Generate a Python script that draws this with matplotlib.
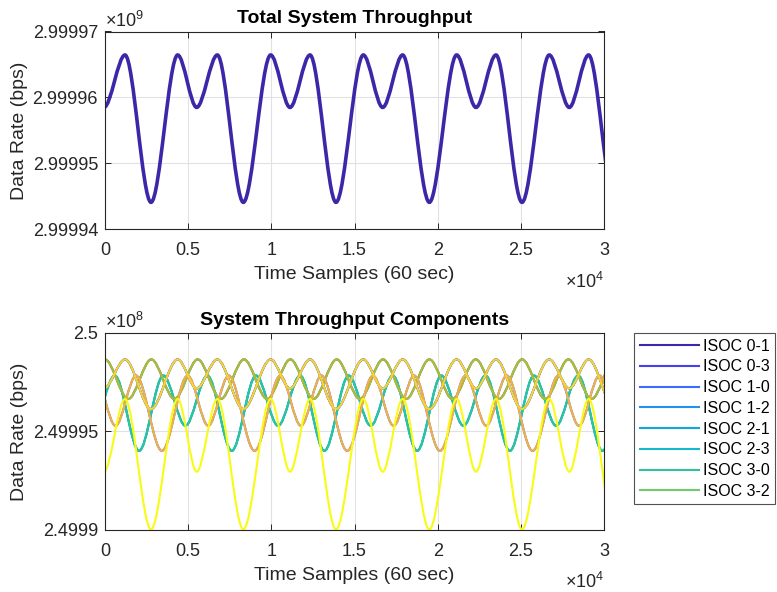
import matplotlib
matplotlib.use("Agg")
import matplotlib.pyplot as plt
from matplotlib.path import Path
from matplotlib.patches import PathPatch
from matplotlib.lines import Line2D
from matplotlib.ticker import FuncFormatter

plt.rcParams['font.family'] = ['Liberation Sans', 'DejaVu Sans']
plt.rcParams['mathtext.fontset'] = 'custom'
plt.rcParams['mathtext.rm'] = 'Liberation Sans'

# turning points (peaks / troughs): time sample, bps
main_t = [-60, 1202, 2765, 4370, 5511, 6753, 8317, 9960, 11122, 12325, 13888, 15530,
          16694, 17895, 19500, 21140, 22305, 23505, 25070, 26710, 27915, 29075, 30640]
total_v = [2999958500, 2999966440, 2999944120, 2999966440, 2999958500, 2999966440,
           2999944120, 2999966440, 2999958500, 2999966440, 2999944120, 2999966440,
           2999958500, 2999966440, 2999944120, 2999966440, 2999958500, 2999966440,
           2999944120, 2999966440, 2999958500, 2999966440, 2999944120]

yellow_v = [249992960, 249996650, 249990030, 249996650, 249992960, 249996650,
            249990030, 249996650, 249992960, 249996650, 249990030, 249996650,
            249992960, 249996650, 249990030, 249996650, 249992960, 249996650,
            249990030, 249996650, 249992960, 249996650, 249990030]
gold_v = [249997190, 249998660, 249996140, 249998660, 249997190, 249998660,
          249996140, 249998660, 249997190, 249998660, 249996140, 249998660,
          249997190, 249998660, 249996140, 249998660, 249997190, 249998660,
          249996140, 249998660, 249997190, 249998660, 249996140]

teal_t = [-738, 588, 2048, 3508, 4834, 6160, 7620, 9080, 10406, 11732, 13192, 14652,
          15978, 17304, 18764, 20224, 21550, 22876, 24336, 25796, 27122, 28448, 29908, 31368]
teal_v = [249995290, 249997840, 249994015, 249997840, 249995290, 249997840,
          249994015, 249997840, 249995290, 249997840, 249994015, 249997840,
          249995290, 249997840, 249994015, 249997840, 249995290, 249997840,
          249994015, 249997840, 249995290, 249997840, 249994015, 249997840]

orange_t = [-602, 634, 1870, 3420, 4970, 6206, 7442, 8992, 10542, 11778, 13014, 14564,
            16114, 17350, 18586, 20136, 21686, 22922, 24158, 25708, 27258, 28494, 29730, 31280]
orange_v = [249997840, 249995290, 249997840, 249994015, 249997840, 249995290,
            249997840, 249994015, 249997840, 249995290, 249997840, 249994015,
            249997840, 249995290, 249997840, 249994015, 249997840, 249995290,
            249997840, 249994015, 249997840, 249995290, 249997840, 249994015]

olive_t = [0, 1393, 2786, 4179, 5572, 6965, 8358, 9751, 11144, 12537, 13930, 15323,
           16716, 18109, 19502, 20895, 22288, 23681, 25074, 26467, 27860, 29253, 30646]
olive_v = [249998660, 249996650, 249998660, 249996650, 249998660, 249996650,
           249998660, 249996650, 249998660, 249996650, 249998660, 249996650,
           249998660, 249996650, 249998660, 249996650, 249998660, 249996650,
           249998660, 249996650, 249998660, 249996650, 249998660]

labels = ['ISOC 0-1', 'ISOC 0-3', 'ISOC 1-0', 'ISOC 1-2',
          'ISOC 2-1', 'ISOC 2-3', 'ISOC 3-0', 'ISOC 3-2']
colors = [(0.242, 0.150, 0.660), (0.278, 0.260, 0.905), (0.240, 0.420, 0.995),
          (0.160, 0.560, 0.930), (0.060, 0.660, 0.860), (0.080, 0.730, 0.800),
          (0.180, 0.760, 0.620), (0.450, 0.790, 0.420), (0.690, 0.730, 0.200),
          (0.960, 0.690, 0.260), (0.990, 0.820, 0.200), (0.977, 0.984, 0.080)]
# which measured curve each of the 12 lines follows (most lie underneath others)
series = [(main_t, gold_v), (olive_t, olive_v), (orange_t, orange_v), (main_t, gold_v),
          (teal_t, teal_v), (teal_t, teal_v), (teal_t, teal_v), (olive_t, olive_v),
          (olive_t, olive_v), (orange_t, orange_v), (main_t, gold_v), (main_t, yellow_v)]


def wave(ts, vs, k=0.33):
    verts = [(ts[0], vs[0])]
    codes = [Path.MOVETO]
    for i in range(len(ts) - 1):
        dt = ts[i + 1] - ts[i]
        verts += [(ts[i] + k * dt, vs[i]), (ts[i + 1] - k * dt, vs[i + 1]), (ts[i + 1], vs[i + 1])]
        codes += [Path.CURVE4] * 3
    return Path(verts, codes)


dark = '#262626'
fig = plt.figure(figsize=(7.77, 5.92), dpi=100)
ax1 = fig.add_axes([105 / 777, 1 - 229.5 / 592, 499 / 777, 198 / 592])
ax2 = fig.add_axes([105 / 777, 1 - 530 / 592, 499 / 777, 197 / 592])

ax1.add_patch(PathPatch(wave(main_t, total_v), fill=False, edgecolor=colors[0], lw=2.6))
for (ts, vs), c in zip(series, colors):
    ax2.add_patch(PathPatch(wave(ts, vs), fill=False, edgecolor=c, lw=1.5))

ax1.set_ylim(2.99994e9, 2.99997e9)
ax1.set_yticks([2.99994e9, 2.99995e9, 2.99996e9, 2.99997e9])
ax1.yaxis.set_major_formatter(FuncFormatter(lambda v, p: '%.6g' % (v / 1e9)))
ax2.set_ylim(2.4999e8, 2.5e8)
ax2.set_yticks([2.4999e8, 2.49995e8, 2.5e8])
ax2.yaxis.set_major_formatter(FuncFormatter(lambda v, p: '%.6g' % (v / 1e8)))

for ax, title, expo in [(ax1, 'Total System Throughput', 9), (ax2, 'System Throughput Components', 8)]:
    ax.set_xlim(0, 30000)
    ax.set_xticks([0, 5000, 10000, 15000, 20000, 25000, 30000])
    ax.xaxis.set_major_formatter(FuncFormatter(lambda v, p: '%g' % (v / 1e4)))
    ax.grid(True, color='#e2e2e2', lw=0.8)
    ax.set_axisbelow(True)
    ax.tick_params(direction='in', top=True, right=True, length=4, width=0.7,
                   colors=dark, labelsize=13, pad=5)
    ax.tick_params(axis='x', pad=9.3)
    for s in ax.spines.values():
        s.set_color(dark)
        s.set_linewidth(0.8)
    ax.set_title(title, fontsize=14, fontweight='bold', color='black', pad=6)
    ax.set_xlabel('Time Samples (60 sec)', fontsize=14, color=dark, labelpad=5)
    pos = ax.get_position()
    fig.text(19.5 / 777, pos.y0 + pos.height / 2, 'Data Rate (bps)', rotation=90,
             ha='center', va='center', fontsize=14, color=dark)
    ax.text(0, 1.005, r'$\times10^{%d}$' % expo, transform=ax.transAxes,
            ha='left', va='bottom', fontsize=13, color=dark)
    ax.annotate(r'$\times10^{4}$', xy=(1, 0), xycoords='axes fraction',
                xytext=(0, -42), textcoords='offset pixels',
                ha='right', va='top', fontsize=13, color=dark)

handles = [Line2D([], [], color=c, lw=1.5) for c in colors[:8]]
leg = fig.legend(handles, labels, loc='upper left', bbox_to_anchor=(634 / 777, 1 - 333 / 592),
                 fontsize=11.5, frameon=True, fancybox=False, edgecolor=dark,
                 handlelength=3.7, handletextpad=0.25, labelspacing=0.36,
                 borderpad=0.35, borderaxespad=0)
leg.get_frame().set_linewidth(0.8)

fig.savefig('out.png', dpi=100)
